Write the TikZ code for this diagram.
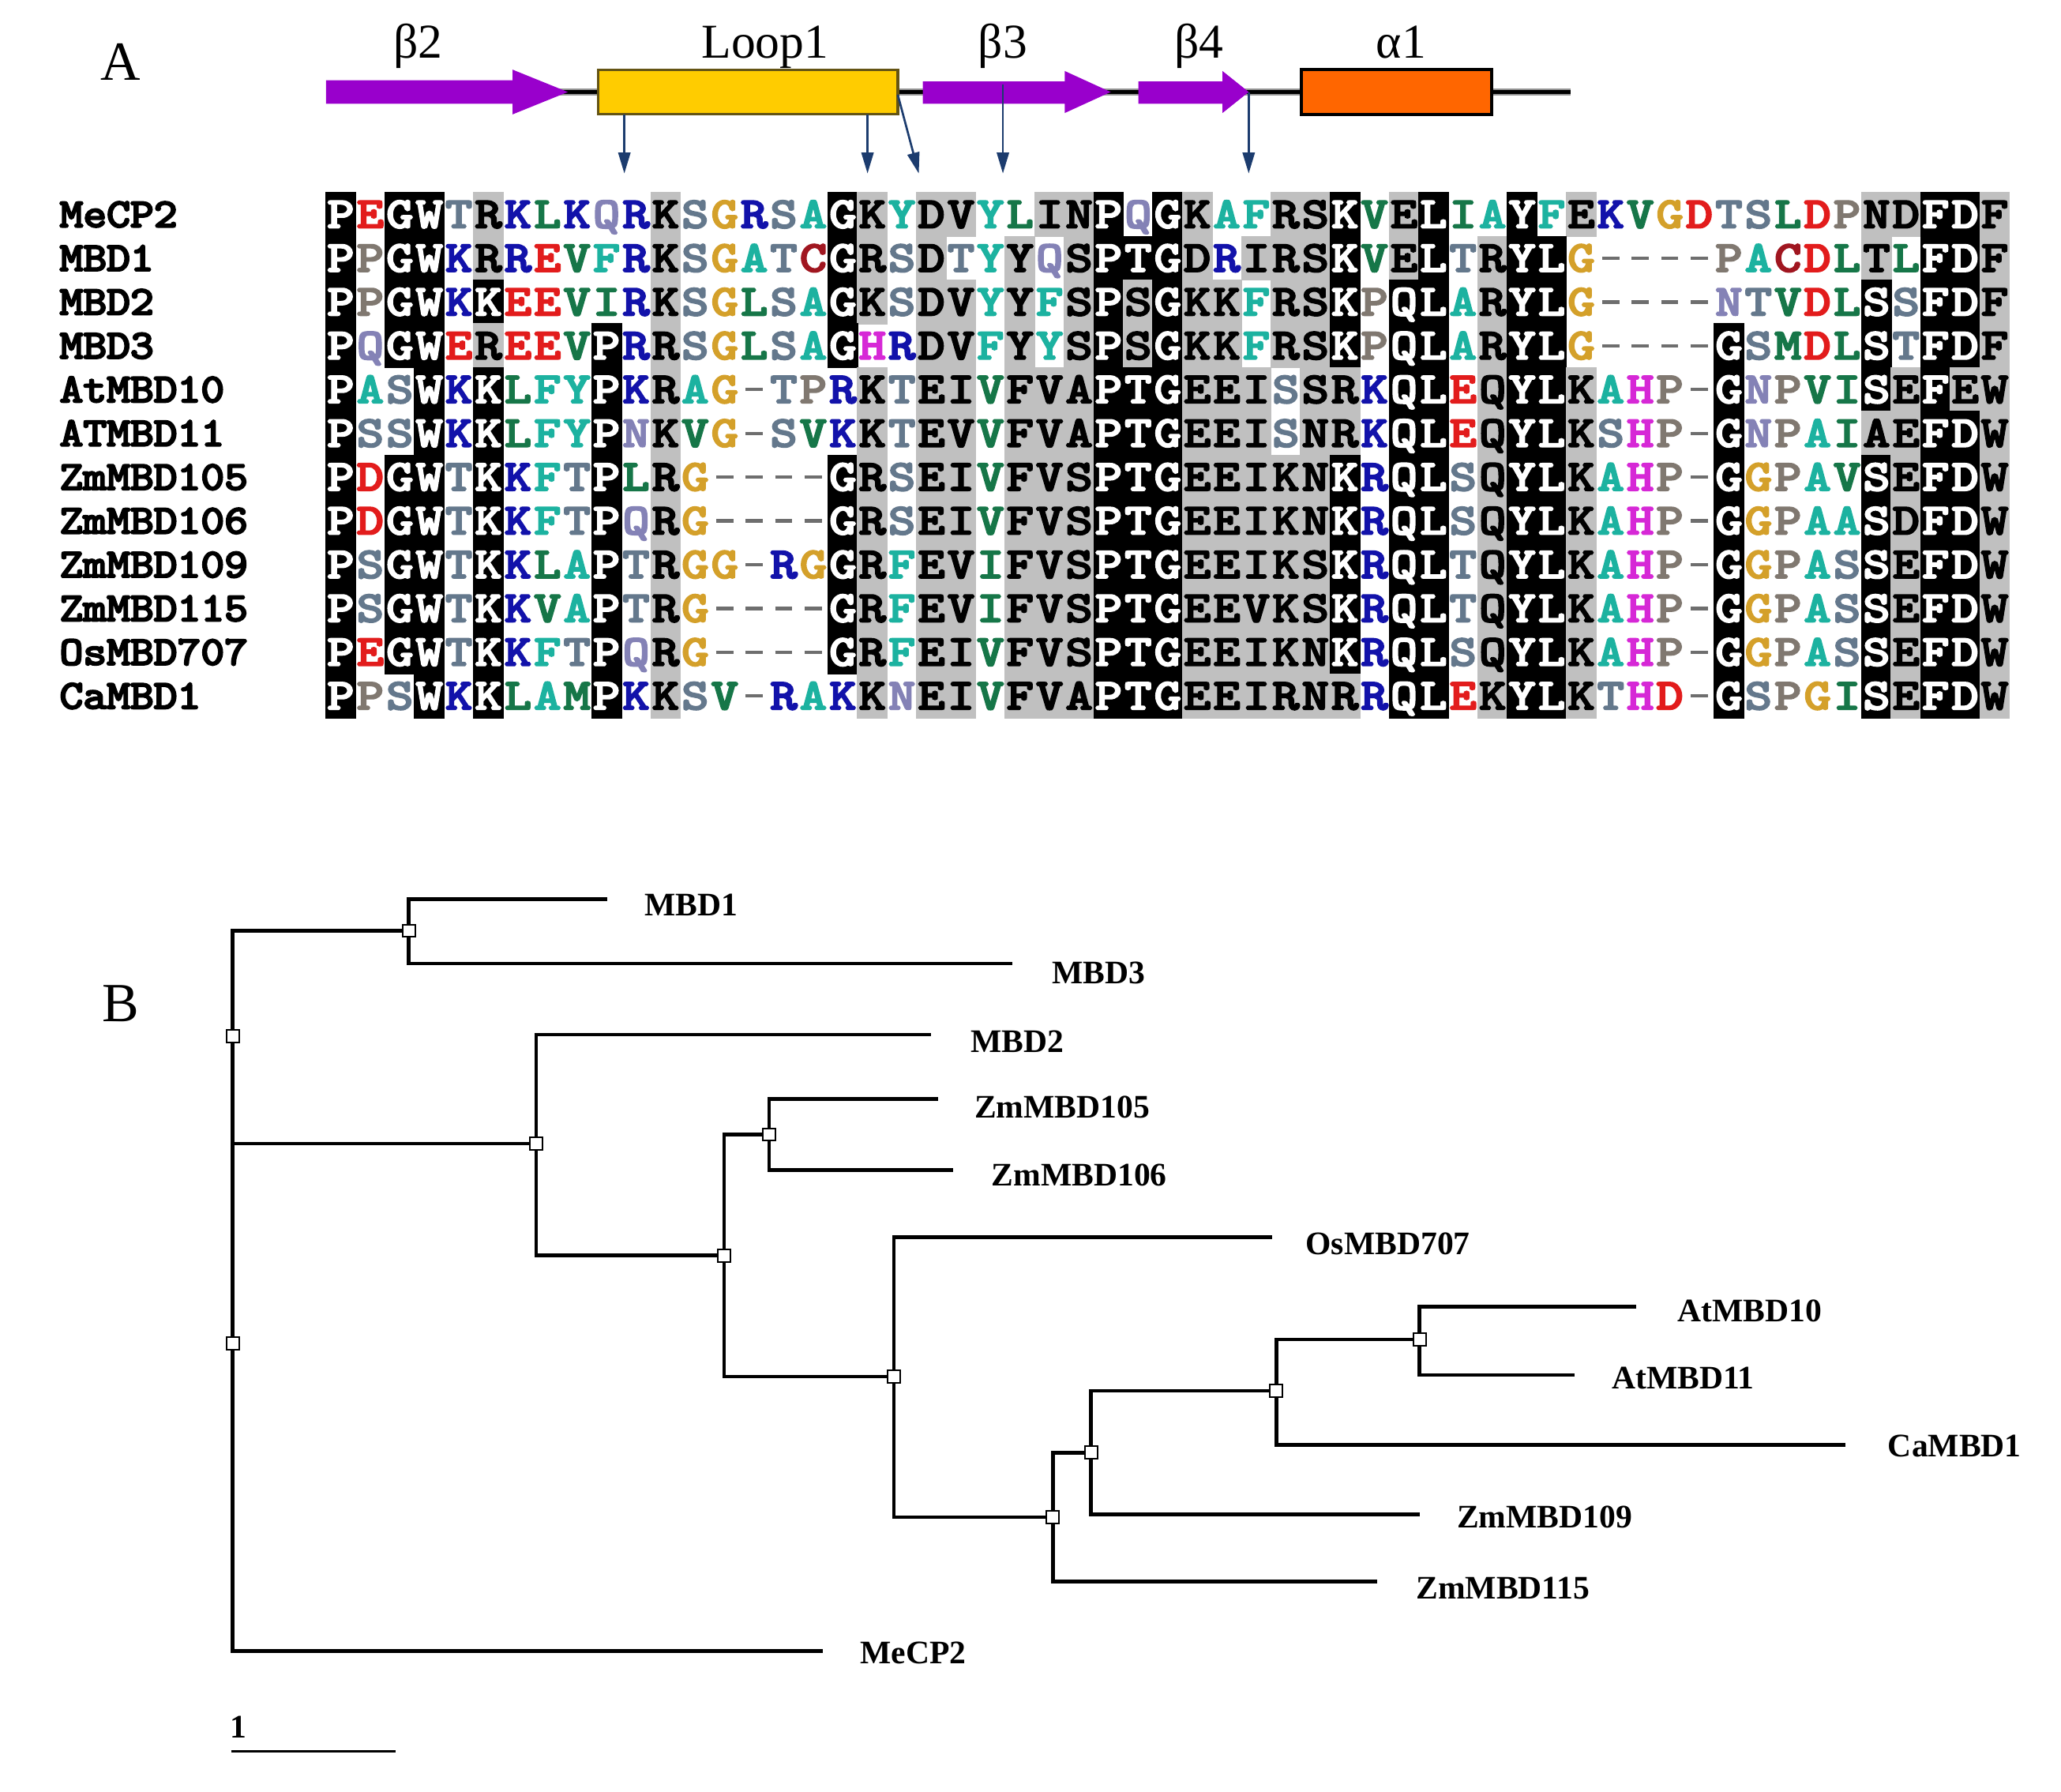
\documentclass[tikz,border=0pt]{standalone}
\usepackage{fontspec}
\setmainfont{Liberation Serif}
\newfontfamily\alnfont{lmmono10-regular}[Extension=.otf, FakeBold=4.5]
\usetikzlibrary{arrows.meta}

\definecolor{cTeal}{RGB}{28,178,160}
\definecolor{cGreen}{RGB}{22,118,72}
\definecolor{cBlue}{RGB}{18,18,170}
\definecolor{cMag}{RGB}{214,40,214}
\definecolor{cRed}{RGB}{226,28,28}
\definecolor{cDRed}{RGB}{160,22,32}
\definecolor{cGold}{RGB}{212,160,42}
\definecolor{cPro}{RGB}{128,120,112}
\definecolor{cSlate}{RGB}{100,120,140}
\definecolor{cLav}{RGB}{132,130,182}
\definecolor{cBgGray}{RGB}{192,192,192}
\definecolor{cDash}{RGB}{110,110,110}
\definecolor{cPurple}{RGB}{153,0,204}
\definecolor{cYellow}{RGB}{255,204,0}
\definecolor{cLoopEdge}{RGB}{100,84,20}
\definecolor{cOrange}{RGB}{255,102,0}
\definecolor{cNavy}{RGB}{28,60,110}

\tikzset{
  alnchar/.style={inner sep=0pt, anchor=center, text height=10pt, text depth=0pt,
    font=\alnfont\fontsize{16.5}{16.5}\selectfont},
  alndash/.style={draw=cDash, line width=1.3pt},
  seqlabel/.style={inner sep=0pt, anchor=west, text height=9.5pt, text depth=0pt,
    font=\alnfont\fontsize{15.5}{15.5}\selectfont},
  sslabel/.style={inner sep=0pt, anchor=base, font=\fontsize{18.5}{18.5}\selectfont},
  panellab/.style={inner sep=0pt, anchor=base, font=\fontsize{21}{21}\selectfont},
  ssarrow/.style={draw=cNavy, line width=0.8pt, -{Triangle[length=8pt,width=4.6pt]}},
  treeline/.style={draw=black, line width=1.35pt},
  treesq/.style={draw=black, fill=white, rectangle, minimum size=4.8pt, inner sep=0pt, line width=0.6pt},
  leaflab/.style={inner sep=0pt, anchor=west, text height=8.3pt, text depth=0pt,
    font=\bfseries\fontsize{12.5}{12.5}\selectfont},
}

\ExplSyntaxOn
\tl_new:N \l_aln_x_tl
\tl_new:N \l_aln_xr_tl
\tl_new:N \l_aln_y_tl
\tl_new:N \l_aln_yb_tl
\tl_new:N \l_aln_cx_tl
\tl_new:N \l_aln_cy_tl
\tl_new:N \l_aln_dl_tl
\tl_new:N \l_aln_dr_tl
\tl_new:N \l_aln_bg_tl
\tl_new:N \l_aln_ch_tl
\tl_new:N \l_aln_col_tl

\cs_new_protected:Npn \aln_setcolor:n #1
  {
    \str_case:nnF {#1}
      {
        {A}{\tl_set:Nn \l_aln_col_tl {cTeal}}
        {F}{\tl_set:Nn \l_aln_col_tl {cTeal}}
        {Y}{\tl_set:Nn \l_aln_col_tl {cTeal}}
        {V}{\tl_set:Nn \l_aln_col_tl {cGreen}}
        {L}{\tl_set:Nn \l_aln_col_tl {cGreen}}
        {I}{\tl_set:Nn \l_aln_col_tl {cGreen}}
        {M}{\tl_set:Nn \l_aln_col_tl {cGreen}}
        {K}{\tl_set:Nn \l_aln_col_tl {cBlue}}
        {R}{\tl_set:Nn \l_aln_col_tl {cBlue}}
        {H}{\tl_set:Nn \l_aln_col_tl {cMag}}
        {D}{\tl_set:Nn \l_aln_col_tl {cRed}}
        {E}{\tl_set:Nn \l_aln_col_tl {cRed}}
        {C}{\tl_set:Nn \l_aln_col_tl {cDRed}}
        {G}{\tl_set:Nn \l_aln_col_tl {cGold}}
        {P}{\tl_set:Nn \l_aln_col_tl {cPro}}
        {S}{\tl_set:Nn \l_aln_col_tl {cSlate}}
        {T}{\tl_set:Nn \l_aln_col_tl {cSlate}}
        {N}{\tl_set:Nn \l_aln_col_tl {cLav}}
        {Q}{\tl_set:Nn \l_aln_col_tl {cLav}}
      }
      {\tl_set:Nn \l_aln_col_tl {black}}
  }

\cs_new_protected:Npn \aln_geom:nn #1#2
  {
    \tl_set:Nx \l_aln_x_tl  { \fp_eval:n { 248 + (#2 - 1) * 22.47 - 0.4 } }
    \tl_set:Nx \l_aln_xr_tl { \fp_eval:n { 248 + (#2) * 22.47 + 0.4 } }
    \tl_set:Nx \l_aln_y_tl  { \fp_eval:n { 146.5 + (#1 - 1) * 33.3 - 0.4 } }
    \tl_set:Nx \l_aln_yb_tl { \fp_eval:n { 146.5 + (#1) * 33.3 + 0.4 } }
    \tl_set:Nx \l_aln_cx_tl { \fp_eval:n { 248 + (#2 - 0.5) * 22.47 } }
    \tl_set:Nx \l_aln_cy_tl { \fp_eval:n { 146.5 + (#1 - 0.5) * 33.3 } }
    \tl_set:Nx \l_aln_dl_tl { \fp_eval:n { 248 + (#2 - 0.5) * 22.47 - 6.5 } }
    \tl_set:Nx \l_aln_dr_tl { \fp_eval:n { 248 + (#2 - 0.5) * 22.47 + 6.5 } }
  }

\cs_new_protected:Npn \aln_bgrow:n #1
  {
    \int_step_inline:nn { 57 }
      {
        \aln_geom:nn {#1} {##1}
        \tl_set:Nx \l_aln_bg_tl { \exp_args:Nv \str_item:nn { g_aln_bg_#1_tl } {##1} }
        \exp_args:NV \str_if_eq:nnT \l_aln_bg_tl {k}
          { \fill[black]~(\l_aln_x_tl,\l_aln_y_tl)~rectangle~(\l_aln_xr_tl,\l_aln_yb_tl); }
        \exp_args:NV \str_if_eq:nnT \l_aln_bg_tl {g}
          { \fill[cBgGray]~(\l_aln_x_tl,\l_aln_y_tl)~rectangle~(\l_aln_xr_tl,\l_aln_yb_tl); }
      }
  }

\cs_new_protected:Npn \aln_fgrow:n #1
  {
    \int_step_inline:nn { 57 }
      {
        \aln_geom:nn {#1} {##1}
        \tl_set:Nx \l_aln_bg_tl { \exp_args:Nv \str_item:nn { g_aln_bg_#1_tl } {##1} }
        \tl_set:Nx \l_aln_ch_tl { \exp_args:Nv \str_item:nn { g_aln_seq_#1_tl } {##1} }
        \exp_args:NV \str_if_eq:nnTF \l_aln_bg_tl {k}
          { \tl_set:Nn \l_aln_col_tl {white} }
          {
            \exp_args:NV \str_if_eq:nnTF \l_aln_bg_tl {g}
              { \tl_set:Nn \l_aln_col_tl {black} }
              { \exp_args:NV \aln_setcolor:n \l_aln_ch_tl }
          }
        \exp_args:NV \str_if_eq:nnTF \l_aln_ch_tl {-}
          { \draw[alndash]~(\l_aln_dl_tl,\l_aln_cy_tl)~--~(\l_aln_dr_tl,\l_aln_cy_tl); }
          { \node[alnchar]~(c#1-##1)~at~(\l_aln_cx_tl,\l_aln_cy_tl)~{\scalebox{1.17}[1]{\color{\l_aln_col_tl}\l_aln_ch_tl}}; }
      }
  }

\NewDocumentCommand \AlnSet { m m m }
  {
    \tl_gclear_new:c { g_aln_seq_#1_tl }
    \tl_gset:cn { g_aln_seq_#1_tl } {#2}
    \tl_gclear_new:c { g_aln_bg_#1_tl }
    \tl_gset:cn { g_aln_bg_#1_tl } {#3}
  }
\NewDocumentCommand \AlnDraw { }
  {
    \int_step_inline:nn { 12 } { \aln_bgrow:n {##1} }
    \int_step_inline:nn { 12 } { \aln_fgrow:n {##1} }
  }
\ExplSyntaxOff

\AlnSet{1}{PEGWTRKLKQRKSGRSAGKYDVYLINPQGKAFRSKVELIAYFEKVGDTSLDPNDFDF}{kwkkwgwwwwwgwwwwwkgwggwwggkwkgwwggkwgkwwkwgwwwwwwwwwggkkg}
\AlnSet{2}{PPGWKRREVFRKSGATCGRSDTYYQSPTGDRIRSKVELTRYLG----PACDLTLFDF}{kwkkwgwwwwwgwwwwwkgwgwwgwgkkkgwgggkwgkwgkkwwwwwwwwwwgwkkg}
\AlnSet{3}{PPGWKKEEVIRKSGLSAGKSDVYYFSPSGKKFRSKPQLARYLG----NTVDLSSFDF}{kwkkwkwwwwwgwwwwwkgwggwgwgkgkggwggkwkkwgkkwwwwwwwwwwkwkkg}
\AlnSet{4}{PQGWEREEVPRRSGLSAGHRDVFYYSPSGKKFRSKPQLARYLG----GSMDLSTFDF}{kwkkwgwwwkwgwwwwwkwwggwgwgkgkggwggkwkkwgkkwwwwwkwwwwkwkkg}
\AlnSet{5}{PASWKKLFYPKRAG-TPRKTEIVFVAPTGEEISSRKQLEQYLKAHP-GNPVISEFEW}{kwwkwkwwwkwgwwwwwwgwggwgggkkkgggwggwkkwgkkgwwwwkwwwwkgkgg}
\AlnSet{6}{PSSWKKLFYPNKVG-SVKKTEVVFVAPTGEEISNRKQLEQYLKSHP-GNPAIAEFDW}{kwwkwkwwwkwgwwwwwwgwggwgggkkkgggwggwkkwgkkgwwwwkwwwwggkkg}
\AlnSet{7}{PDGWTKKFTPLRG----GRSEIVFVSPTGEEIKNKRQLSQYLKAHP-GGPAVSEFDW}{kwkkwkwwwkwgwwwwwkgwggwgggkkkgggggkwkkwgkkgwwwwkwwwwkgkkg}
\AlnSet{8}{PDGWTKKFTPQRG----GRSEIVFVSPTGEEIKNKRQLSQYLKAHP-GGPAASDFDW}{kwkkwkwwwkwgwwwwwkgwggwgggkkkgggggkwkkwgkkgwwwwkwwwwkgkkg}
\AlnSet{9}{PSGWTKKLAPTRGG-RGGRFEVIFVSPTGEEIKSKRQLTQYLKAHP-GGPASSEFDW}{kwkkwkwwwkwgwwwwwkgwggwgggkkkgggggkwkkwgkkgwwwwkwwwwkgkkg}
\AlnSet{10}{PSGWTKKVAPTRG----GRFEVIFVSPTGEEVKSKRQLTQYLKAHP-GGPASSEFDW}{kwkkwkwwwkwgwwwwwkgwggwgggkkkgggggkwkkwgkkgwwwwkwwwwkgkkg}
\AlnSet{11}{PEGWTKKFTPQRG----GRFEIVFVSPTGEEIKNKRQLSQYLKAHP-GGPASSEFDW}{kwkkwkwwwkwgwwwwwkgwggwgggkkkgggggkwkkwgkkgwwwwkwwwwkgkkg}
\AlnSet{12}{PPSWKKLAMPKKSV-RAKKNEIVFVAPTGEEIRNRRQLEKYLKTHD-GSPGISEFDW}{kwwkwkwwwkwgwwwwwwgwggwgggkkkggggggwkkwgkkgwwwwkwwwwkgkkg}

\begin{document}
\begin{tikzpicture}[x=0.5pt,y=-0.5pt]
\useasboundingbox (0,0) rectangle (1568,1363);

% ---------- Panel A ----------
\node[panellab] (labA) at (92,61) {A};

% backbone
\draw[line width=2.6pt, black!40] (425,70) -- (1195,70);
\draw[line width=1.6pt, black] (425,70) -- (1195,70);

% secondary structure elements
\fill[cPurple] (248,61) -- (390,61) -- (390,53) -- (432,70) -- (390,87) -- (390,79) -- (248,79) -- cycle;
\filldraw[fill=cYellow, draw=cLoopEdge, line width=1pt] (455,53) rectangle (683,87);
\fill[cPurple] (702,62) -- (810,62) -- (810,54) -- (845,70) -- (810,86) -- (810,79) -- (702,79) -- cycle;
\fill[cPurple] (866,62) -- (930,62) -- (930,54) -- (950,70) -- (930,86) -- (930,79) -- (866,79) -- cycle;
\filldraw[fill=cOrange, draw=black, line width=1.2pt] (990,53) rectangle (1135,87);

\node[sslabel] (tb2) at (318,44) {β2};
\node[sslabel] (tloop) at (582,44) {Loop1};
\node[sslabel] (tb3) at (763,44) {β3};
\node[sslabel] (tb4) at (912,44) {β4};
\node[sslabel] (ta1) at (1066,44) {α1};

% site arrows
\coordinate (p1s) at (475,87);  \coordinate (p1e) at (475,132);
\coordinate (p2s) at (660,87);  \coordinate (p2e) at (660,132);
\coordinate (p3s) at (683,72);  \coordinate (p3e) at (699,132);
\coordinate (p4s) at (763,64);  \coordinate (p4e) at (763,132);
\coordinate (p5s) at (950,70);  \coordinate (p5e) at (950,132);
\draw[ssarrow] (p1s) -- (p1e);
\draw[ssarrow] (p2s) -- (p2e);
\draw[ssarrow] (p3s) -- (p3e);
\draw[ssarrow] (p4s) -- (p4e);
\draw[ssarrow] (p5s) -- (p5e);

% alignment
\AlnDraw

% sequence labels
\node[seqlabel] (lMeCP2)   at (45,163.15) {\scalebox{1.1}[1]{MeCP2}};
\node[seqlabel] (lMBD1)    at (45,196.45) {\scalebox{1.1}[1]{MBD1}};
\node[seqlabel] (lMBD2)    at (45,229.75) {\scalebox{1.1}[1]{MBD2}};
\node[seqlabel] (lMBD3)    at (45,263.05) {\scalebox{1.1}[1]{MBD3}};
\node[seqlabel] (lAt10)    at (45,296.35) {\scalebox{1.1}[1]{AtMBD10}};
\node[seqlabel] (lAt11)    at (45,329.65) {\scalebox{1.1}[1]{ATMBD11}};
\node[seqlabel] (lZ105)    at (45,362.95) {\scalebox{1.1}[1]{ZmMBD105}};
\node[seqlabel] (lZ106)    at (45,396.25) {\scalebox{1.1}[1]{ZmMBD106}};
\node[seqlabel] (lZ109)    at (45,429.55) {\scalebox{1.1}[1]{ZmMBD109}};
\node[seqlabel] (lZ115)    at (45,462.85) {\scalebox{1.1}[1]{ZmMBD115}};
\node[seqlabel] (lOs707)   at (45,496.15) {\scalebox{1.1}[1]{OsMBD707}};
\node[seqlabel] (lCa1)     at (45,529.45) {\scalebox{1.1}[1]{CaMBD1}};

% ---------- Panel B ----------
\node[panellab] (labB) at (92,777) {B};

\coordinate (tR) at (177,1022);
\coordinate (tA) at (177,788);
\coordinate (tM) at (311,708);
\coordinate (tB) at (408,870);
\coordinate (tC) at (551,955);
\coordinate (tD) at (585,863);
\coordinate (tE) at (680,1047);
\coordinate (tF) at (801,1154);
\coordinate (tG) at (830,1105);
\coordinate (tH) at (971,1058);
\coordinate (tI) at (1080,1019);

\coordinate (eMBD1) at (462,684);
\coordinate (eMBD3) at (770,733);
\coordinate (eMBD2) at (708,787);
\coordinate (eZ105) at (714,836);
\coordinate (eZ106) at (725,890);
\coordinate (eOs) at (968,941);
\coordinate (eAt10) at (1245,994);
\coordinate (eAt11) at (1198,1046);
\coordinate (eCa) at (1404,1099);
\coordinate (eZ109) at (1080,1152);
\coordinate (eZ115) at (1048,1203);
\coordinate (eMe) at (626,1256);

\draw[treeline] (tR) |- (tA);
\draw[treeline] (tR) |- (eMe);
\draw[treeline] (tA) |- (tM);
\draw[treeline] (tA) |- (tB);
\draw[treeline] (tM) |- (eMBD1);
\draw[treeline] (tM) |- (eMBD3);
\draw[treeline] (tB) |- (eMBD2);
\draw[treeline] (tB) |- (tC);
\draw[treeline] (tC) |- (tD);
\draw[treeline] (tC) |- (tE);
\draw[treeline] (tD) |- (eZ105);
\draw[treeline] (tD) |- (eZ106);
\draw[treeline] (tE) |- (eOs);
\draw[treeline] (tE) |- (tF);
\draw[treeline] (tF) |- (tG);
\draw[treeline] (tF) |- (eZ115);
\draw[treeline] (tG) |- (tH);
\draw[treeline] (tG) |- (eZ109);
\draw[treeline] (tH) |- (tI);
\draw[treeline] (tH) |- (eCa);
\draw[treeline] (tI) |- (eAt10);
\draw[treeline] (tI) |- (eAt11);

\foreach \n in {tR,tA,tM,tB,tC,tD,tE,tF,tG,tH,tI}
  \node[treesq] (s\n) at (\n) {};

\node[leaflab] (nMBD1) at (490,688) {MBD1};
\node[leaflab] (nMBD3) at (800,740) {MBD3};
\node[leaflab] (nMBD2) at (738,792) {MBD2};
\node[leaflab] (nZ105) at (741,842) {ZmMBD105};
\node[leaflab] (nZ106) at (754,894) {ZmMBD106};
\node[leaflab] (nOs) at (993,946) {OsMBD707};
\node[leaflab] (nAt10) at (1276,997) {AtMBD10};
\node[leaflab] (nAt11) at (1226,1048) {AtMBD11};
\node[leaflab] (nCa) at (1436,1100) {CaMBD1};
\node[leaflab] (nZ109) at (1108,1154) {ZmMBD109};
\node[leaflab] (nZ115) at (1077,1208) {ZmMBD115};
\node[leaflab] (nMe) at (654,1257) {MeCP2};

% scale bar
\coordinate (sb1) at (176,1332);
\coordinate (sb2) at (301,1332);
\draw[line width=0.8pt] (sb1) -- (sb2);
\node[inner sep=0pt, anchor=base west, font=\bfseries\fontsize{12.5}{12.5}\selectfont] (sbl) at (175,1322) {1};
\end{tikzpicture}
\end{document}
